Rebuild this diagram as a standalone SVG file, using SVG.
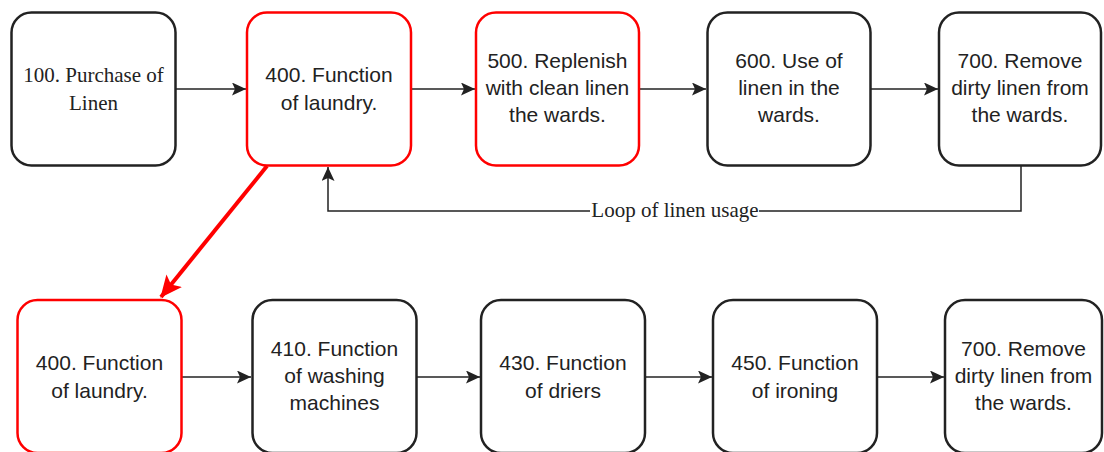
<svg xmlns="http://www.w3.org/2000/svg" width="1104" height="452" viewBox="0 0 1104 452">
<style>
.box{fill:#fff;stroke:#222;stroke-width:2.5}
.red{stroke:#ff0000}
.t{font-family:"Liberation Sans",Arial,sans-serif;font-size:21px;fill:#222;text-anchor:middle}
.s{font-family:"Liberation Serif","Times New Roman",serif;font-size:21px;fill:#222;text-anchor:middle}
.c{fill:none;stroke:#222;stroke-width:1.5}
</style>
<defs>
<marker id="ah" markerWidth="14" markerHeight="13" refX="14" refY="6.5" orient="auto" markerUnits="userSpaceOnUse">
<path d="M0,0 L14,6.5 L0,13 L3,6.5 Z" fill="#222"/>
</marker>
<marker id="ahr" markerWidth="22" markerHeight="20" refX="21" refY="10" orient="auto" markerUnits="userSpaceOnUse">
<path d="M0,0 L22,10 L0,20 L5,10 Z" fill="#ff0000"/>
</marker>
</defs>
<g id="connectors">
<line class="c" x1="176" y1="89" x2="246" y2="89" marker-end="url(#ah)"/>
<line class="c" x1="411" y1="89" x2="475" y2="89" marker-end="url(#ah)"/>
<line class="c" x1="639" y1="89" x2="706" y2="89" marker-end="url(#ah)"/>
<line class="c" x1="871" y1="89" x2="938" y2="89" marker-end="url(#ah)"/>
<polyline class="c" points="1021,166 1021,211 328,211 328,167" marker-end="url(#ah)"/>
<rect x="590" y="201" width="169" height="20" fill="#fff"/>
<text class="s" x="675" y="217">Loop of linen usage</text>
<line x1="267" y1="166" x2="161" y2="297" stroke="#ff0000" stroke-width="4" marker-end="url(#ahr)"/>
<line class="c" x1="182" y1="377" x2="251" y2="377" marker-end="url(#ah)"/>
<line class="c" x1="417" y1="377" x2="480" y2="377" marker-end="url(#ah)"/>
<line class="c" x1="646" y1="377" x2="712" y2="377" marker-end="url(#ah)"/>
<line class="c" x1="878" y1="377" x2="944" y2="377" marker-end="url(#ah)"/>
</g>
<g id="n100">
<rect class="box" x="11.5" y="12.5" width="164" height="153" rx="20"/>
<text class="s" x="93.5" y="82">100. Purchase of</text>
<text class="s" x="93.5" y="110">Linen</text>
</g>
<g id="n400">
<rect class="box red" x="247" y="12.5" width="164" height="153" rx="20"/>
<text class="t" x="329" y="82">400. Function</text>
<text class="t" x="329" y="110">of laundry.</text>
</g>
<g id="n500">
<rect class="box red" x="476" y="12.5" width="163" height="153" rx="20"/>
<text class="t" x="557.5" y="68">500. Replenish</text>
<text class="t" x="557.5" y="95">with clean linen</text>
<text class="t" x="557.5" y="122">the wards.</text>
</g>
<g id="n600">
<rect class="box" x="707.5" y="12.5" width="163" height="153" rx="20"/>
<text class="t" x="789" y="68">600. Use of</text>
<text class="t" x="789" y="95">linen in the</text>
<text class="t" x="789" y="122">wards.</text>
</g>
<g id="n700">
<rect class="box" x="939" y="12.5" width="162" height="153" rx="20"/>
<text class="t" x="1020" y="68">700. Remove</text>
<text class="t" x="1020" y="95">dirty linen from</text>
<text class="t" x="1020" y="122">the wards.</text>
</g>
<g id="n400b">
<rect class="box red" x="17.5" y="300" width="164" height="153" rx="20"/>
<text class="t" x="99.5" y="370">400. Function</text>
<text class="t" x="99.5" y="398">of laundry.</text>
</g>
<g id="n410">
<rect class="box" x="252.5" y="300" width="164" height="153" rx="20"/>
<text class="t" x="334.5" y="356">410. Function</text>
<text class="t" x="334.5" y="383">of washing</text>
<text class="t" x="334.5" y="410">machines</text>
</g>
<g id="n430">
<rect class="box" x="481" y="300" width="164" height="153" rx="20"/>
<text class="t" x="563" y="370">430. Function</text>
<text class="t" x="563" y="398">of driers</text>
</g>
<g id="n450">
<rect class="box" x="713" y="300" width="164" height="153" rx="20"/>
<text class="t" x="795" y="370">450. Function</text>
<text class="t" x="795" y="398">of ironing</text>
</g>
<g id="n700b">
<rect class="box" x="945" y="300" width="157" height="153" rx="20"/>
<text class="t" x="1023.5" y="356">700. Remove</text>
<text class="t" x="1023.5" y="383">dirty linen from</text>
<text class="t" x="1023.5" y="410">the wards.</text>
</g>
</svg>
